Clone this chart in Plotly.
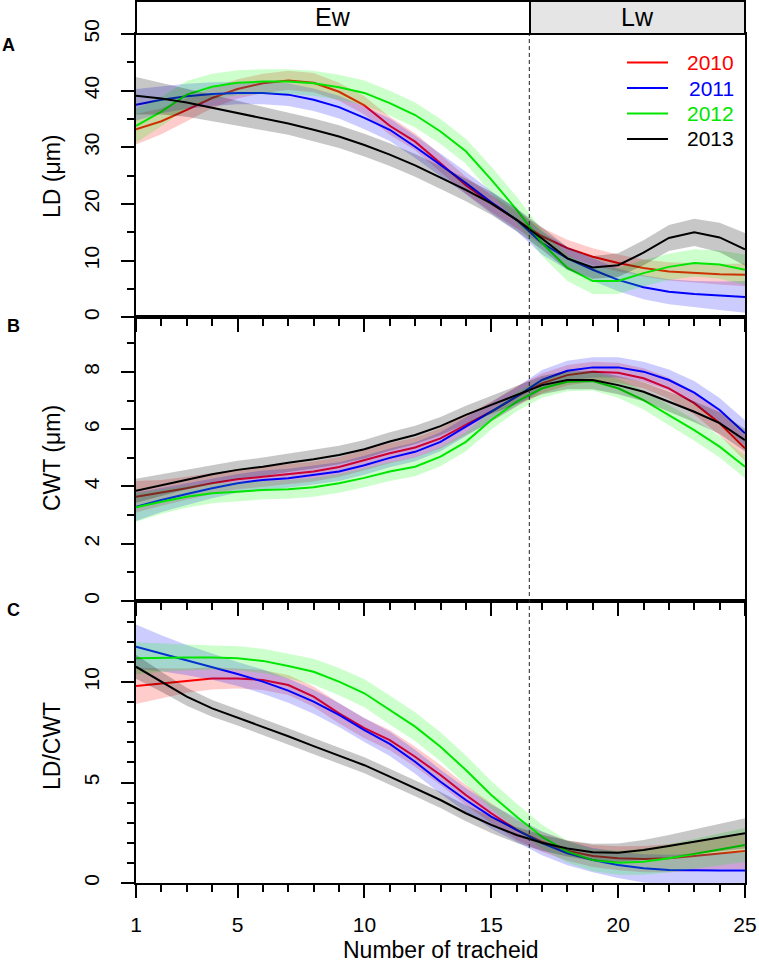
import plotly.graph_objects as go

W, H = 759, 964

tracheid = list(range(1, 26))
years = ["2010", "2011", "2012", "2013"]
line_colors = ["#ff0000", "#0000ff", "#00e600", "#000000"]
band_colors = ["rgba(255,0,0,0.2)", "rgba(0,0,255,0.2)", "rgba(0,255,0,0.2)", "rgba(0,0,0,0.22)"]

# Panel A: LD (um)
ld_2010 = [33.2, 34.6, 36.6, 38.7, 40.3, 41.3, 41.8, 41.4, 39.8, 37.4, 33.8, 31.0, 27.2, 23.3, 20.1, 17.2, 14.3, 12.2, 10.7, 9.6, 8.7, 8.1, 7.8, 7.6, 7.5]
ld_2011 = [37.5, 38.4, 39.0, 39.4, 39.6, 39.6, 39.3, 38.4, 37.1, 35.2, 33.1, 30.1, 26.9, 23.7, 20.3, 17.2, 13.1, 10.4, 8.4, 6.6, 5.3, 4.5, 4.1, 3.8, 3.6]
ld_2012 = [33.8, 36.3, 39.3, 40.7, 41.4, 41.6, 41.6, 41.3, 40.6, 39.6, 37.8, 35.7, 32.8, 29.3, 24.3, 19.0, 13.1, 8.7, 6.4, 6.4, 7.8, 8.9, 9.6, 9.3, 8.4]
ld_2013 = [39.1, 38.6, 37.9, 37.0, 36.0, 35.1, 34.2, 33.1, 31.9, 30.4, 28.7, 26.8, 24.7, 22.5, 20.1, 17.2, 13.9, 10.4, 8.8, 9.2, 11.4, 14.0, 15.0, 14.1, 12.0]
ld_hw_2010 = [2.7, 2.3, 2.0, 1.8, 1.7, 1.7, 1.7, 1.7, 1.6, 1.6, 1.6, 1.5, 1.5, 1.5, 1.5, 1.5, 1.5, 1.5, 1.5, 1.5, 1.5, 1.6, 1.7, 1.8, 2.0]
ld_hw_2011 = [2.8, 2.4, 2.2, 2.1, 2.0, 2.0, 2.0, 2.0, 2.0, 2.0, 2.0, 2.0, 2.0, 2.0, 2.0, 2.0, 2.0, 2.0, 2.0, 2.0, 2.1, 2.2, 2.3, 2.5, 2.8]
ld_hw_2012 = [3.0, 2.6, 2.4, 2.3, 2.2, 2.2, 2.2, 2.2, 2.2, 2.2, 2.2, 2.2, 2.2, 2.2, 2.3, 2.3, 2.3, 2.3, 2.3, 2.3, 2.3, 2.3, 2.4, 2.5, 2.7]
ld_hw_2013 = [3.3, 2.8, 2.5, 2.3, 2.2, 2.1, 2.0, 2.0, 2.0, 2.0, 2.0, 2.0, 2.0, 2.0, 2.0, 2.0, 2.0, 2.0, 2.0, 2.1, 2.2, 2.3, 2.4, 2.6, 2.9]

# Panel B: CWT (um)
cwt_2010 = [3.64, 3.78, 3.94, 4.11, 4.25, 4.34, 4.44, 4.52, 4.68, 4.92, 5.16, 5.36, 5.68, 6.15, 6.61, 7.14, 7.60, 7.89, 8.01, 7.97, 7.78, 7.43, 6.91, 6.21, 5.33]
cwt_2011 = [3.29, 3.53, 3.74, 3.94, 4.11, 4.23, 4.29, 4.40, 4.52, 4.74, 5.00, 5.21, 5.56, 6.09, 6.61, 7.14, 7.72, 8.04, 8.16, 8.16, 8.01, 7.72, 7.28, 6.67, 5.86]
cwt_2012 = [3.27, 3.47, 3.64, 3.76, 3.82, 3.88, 3.90, 3.97, 4.11, 4.30, 4.52, 4.69, 5.04, 5.56, 6.32, 6.96, 7.43, 7.66, 7.68, 7.43, 7.02, 6.50, 5.97, 5.39, 4.69]
cwt_2013 = [3.85, 4.05, 4.25, 4.43, 4.58, 4.69, 4.83, 4.95, 5.10, 5.30, 5.57, 5.80, 6.11, 6.50, 6.85, 7.20, 7.54, 7.72, 7.72, 7.54, 7.31, 6.96, 6.61, 6.21, 5.62]
cwt_hw_2010 = [0.55, 0.45, 0.40, 0.37, 0.35, 0.35, 0.35, 0.35, 0.35, 0.35, 0.35, 0.35, 0.35, 0.35, 0.35, 0.35, 0.35, 0.35, 0.35, 0.35, 0.35, 0.37, 0.40, 0.42, 0.45]
cwt_hw_2011 = [0.50, 0.42, 0.38, 0.35, 0.33, 0.33, 0.33, 0.33, 0.33, 0.33, 0.33, 0.33, 0.33, 0.33, 0.33, 0.33, 0.35, 0.35, 0.35, 0.35, 0.35, 0.37, 0.40, 0.42, 0.45]
cwt_hw_2012 = [0.50, 0.42, 0.38, 0.35, 0.33, 0.33, 0.33, 0.33, 0.33, 0.33, 0.33, 0.33, 0.33, 0.33, 0.33, 0.33, 0.33, 0.33, 0.33, 0.33, 0.33, 0.35, 0.37, 0.38, 0.40]
cwt_hw_2013 = [0.42, 0.38, 0.35, 0.33, 0.32, 0.32, 0.32, 0.32, 0.32, 0.32, 0.32, 0.32, 0.32, 0.32, 0.32, 0.32, 0.32, 0.32, 0.32, 0.32, 0.33, 0.35, 0.37, 0.38, 0.40]

# Panel C: LD/CWT
ratio_2010 = [9.80, 9.93, 10.07, 10.18, 10.18, 10.10, 9.85, 9.27, 8.44, 7.70, 7.11, 6.28, 5.37, 4.38, 3.47, 2.64, 2.05, 1.61, 1.34, 1.23, 1.19, 1.23, 1.34, 1.48, 1.59]
ratio_2011 = [11.76, 11.43, 11.09, 10.76, 10.40, 10.02, 9.57, 9.02, 8.36, 7.61, 6.92, 6.03, 5.04, 4.13, 3.30, 2.64, 1.98, 1.48, 1.14, 0.90, 0.73, 0.65, 0.62, 0.62, 0.62]
ratio_2012 = [11.18, 11.21, 11.22, 11.22, 11.18, 11.05, 10.80, 10.51, 10.02, 9.44, 8.61, 7.78, 6.78, 5.62, 4.38, 3.30, 2.30, 1.56, 1.14, 1.01, 1.06, 1.23, 1.44, 1.68, 1.89]
ratio_2013 = [10.76, 10.01, 9.27, 8.69, 8.24, 7.78, 7.30, 6.81, 6.33, 5.86, 5.29, 4.71, 4.13, 3.47, 2.89, 2.39, 2.00, 1.72, 1.53, 1.51, 1.64, 1.84, 2.05, 2.27, 2.47]
ratio_hw_2010 = [0.90, 0.75, 0.60, 0.55, 0.50, 0.50, 0.50, 0.50, 0.50, 0.50, 0.50, 0.50, 0.50, 0.50, 0.50, 0.50, 0.50, 0.50, 0.55, 0.60, 0.65, 0.70, 0.75, 0.80, 0.90]
ratio_hw_2011 = [1.10, 0.90, 0.75, 0.65, 0.60, 0.60, 0.60, 0.60, 0.60, 0.60, 0.60, 0.60, 0.60, 0.60, 0.60, 0.60, 0.60, 0.60, 0.60, 0.65, 0.70, 0.75, 0.80, 0.85, 0.90]
ratio_hw_2012 = [0.80, 0.70, 0.65, 0.60, 0.60, 0.60, 0.62, 0.65, 0.68, 0.70, 0.72, 0.72, 0.72, 0.72, 0.70, 0.65, 0.60, 0.55, 0.55, 0.60, 0.65, 0.70, 0.75, 0.80, 0.85]
ratio_hw_2013 = [0.60, 0.50, 0.45, 0.42, 0.40, 0.40, 0.40, 0.40, 0.40, 0.40, 0.40, 0.40, 0.40, 0.40, 0.40, 0.40, 0.40, 0.40, 0.42, 0.45, 0.50, 0.55, 0.62, 0.68, 0.75]

panels = [
    ("x", "y", [ld_2010, ld_2011, ld_2012, ld_2013], [ld_hw_2010, ld_hw_2011, ld_hw_2012, ld_hw_2013]),
    ("x2", "y2", [cwt_2010, cwt_2011, cwt_2012, cwt_2013], [cwt_hw_2010, cwt_hw_2011, cwt_hw_2012, cwt_hw_2013]),
    ("x3", "y3", [ratio_2010, ratio_2011, ratio_2012, ratio_2013], [ratio_hw_2010, ratio_hw_2011, ratio_hw_2012, ratio_hw_2013]),
]

fig = go.Figure()
for xa, ya, series, hws in panels:
    for i, yr in enumerate(years):
        vals, hw = series[i], hws[i]
        upper = [v + h for v, h in zip(vals, hw)]
        lower = [v - h for v, h in zip(vals, hw)]
        fig.add_trace(go.Scatter(
            x=tracheid + tracheid[::-1], y=upper + lower[::-1],
            fill="toself", fillcolor=band_colors[i], line=dict(width=0),
            mode="lines", showlegend=False, hoverinfo="skip", xaxis=xa, yaxis=ya))
        fig.add_trace(go.Scatter(
            x=tracheid, y=vals, mode="lines",
            line=dict(color=line_colors[i], width=2),
            name=yr, showlegend=False, xaxis=xa, yaxis=ya))

def py(px):
    return 1 - px / H

FONT = "Liberation Sans, Arial, sans-serif"
xdom = [136 / W, 745 / W]
A_top, A_bot, B_bot, C_bot = 34, 317.3, 601, 883

def xaxis(anchor, labels):
    return dict(domain=xdom, anchor=anchor, range=[1, 25], showgrid=False, zeroline=False,
                automargin=False,
                showline=True, linecolor="black", linewidth=2, mirror=True,
                tickmode="array", tickvals=[1, 5, 10, 15, 20, 25],
                ticks="outside", ticklen=13, tickwidth=2, tickcolor="black",
                minor=dict(tickmode="array", tickvals=[v for v in tracheid if v not in (1, 5, 10, 15, 20, 25)],
                           ticks="outside", ticklen=7, tickwidth=2, tickcolor="black"),
                showticklabels=labels, tickfont=dict(size=21, family=FONT, color="black"),
                ticklabelstandoff=9)

def yaxis(anchor, dom, rng, major, minor):
    return dict(domain=dom, anchor=anchor, range=rng, showgrid=False, zeroline=False,
                automargin=False,
                showline=True, linecolor="black", linewidth=2, mirror=True,
                tickmode="array", tickvals=major, tickangle=-90,
                ticks="outside", ticklen=13, tickwidth=2, tickcolor="black",
                minor=dict(tickmode="array", tickvals=minor, ticks="outside", ticklen=7,
                           tickwidth=2, tickcolor="black"),
                tickfont=dict(size=21, family=FONT, color="black"), ticklabelstandoff=14)

fig.update_layout(
    width=W, height=H, margin=dict(l=0, r=0, t=0, b=0, autoexpand=False), autosize=False,
    paper_bgcolor="white", plot_bgcolor="rgba(0,0,0,0)",
    font=dict(family=FONT, color="black"),
    xaxis=xaxis("y", False),
    xaxis2=xaxis("y2", False),
    xaxis3=xaxis("y3", True),
    yaxis=yaxis("x", [py(A_bot), py(A_top)], [0, 50], [0, 10, 20, 30, 40, 50], [5, 15, 25, 35, 45]),
    yaxis2=yaxis("x2", [py(B_bot), py(A_bot)], [0, (B_bot - A_bot) / 28.63], [0, 2, 4, 6, 8], [1, 3, 5, 7, 9]),
    yaxis3=yaxis("x3", [py(C_bot), py(B_bot)], [0, (C_bot - B_bot) / 20.1], [0, 5, 10],
                 [1, 2, 3, 4, 6, 7, 8, 9, 11, 12, 13]),
    showlegend=False,
)

# header strip (Ew / Lw)
fig.add_shape(type="rect", xref="paper", yref="paper", x0=136 / W, x1=530 / W, y0=py(A_top), y1=py(1),
              line=dict(color="black", width=2), fillcolor="white", layer="above")
fig.add_shape(type="rect", xref="paper", yref="paper", x0=530 / W, x1=745 / W, y0=py(A_top), y1=py(1),
              line=dict(color="black", width=2), fillcolor="#e5e5e5", layer="above")
# earlywood / latewood boundary
fig.add_shape(type="line", xref="x3", yref="paper", x0=16.5, x1=16.5, y0=py(C_bot), y1=py(A_top),
              line=dict(color="#222222", width=1, dash="4px,3px"), layer="above")

# legend (panel A, top right)
legend_y = [62.5, 88, 113.5, 139]
for i, yr in enumerate(years):
    fig.add_shape(type="line", xref="paper", yref="paper", x0=627 / W, x1=668 / W,
                  y0=py(legend_y[i]), y1=py(legend_y[i]), line=dict(color=line_colors[i], width=2))
    fig.add_annotation(x=736 / W, y=py(legend_y[i]), xref="paper", yref="paper", text=yr,
                       showarrow=False, xanchor="right", yanchor="middle",
                       font=dict(size=21, family=FONT, color=line_colors[i]))

ann = [
    dict(x=333 / W, y=py(17), text="Ew", font=dict(size=25), yanchor="middle"),
    dict(x=637.5 / W, y=py(17), text="Lw", font=dict(size=25), yanchor="middle"),
    dict(x=8 / W, y=py(45), text="<b>A</b>", font=dict(size=18), yanchor="middle"),
    dict(x=13 / W, y=py(326), text="<b>B</b>", font=dict(size=18), yanchor="middle"),
    dict(x=13 / W, y=py(610), text="<b>C</b>", font=dict(size=18), yanchor="middle"),
    dict(x=52 / W, y=py(176), text="LD (μm)", font=dict(size=23), textangle=-90, yanchor="middle"),
    dict(x=52 / W, y=py(458), text="CWT (μm)", font=dict(size=23), textangle=-90, yanchor="middle"),
    dict(x=52 / W, y=py(746), text="LD/CWT", font=dict(size=23), textangle=-90, yanchor="middle"),
    dict(x=440.5 / W, y=0, text="Number of tracheid", font=dict(size=23), yanchor="bottom", borderpad=0),
]
for a in ann:
    a.update(xref="paper", yref="paper", showarrow=False, xanchor="center")
    a["font"].update(family=FONT, color="black")
    fig.add_annotation(**a)

fig.write_html("out.html", config={"displayModeBar": False},
               post_script="document.body.style.margin='0px';")
